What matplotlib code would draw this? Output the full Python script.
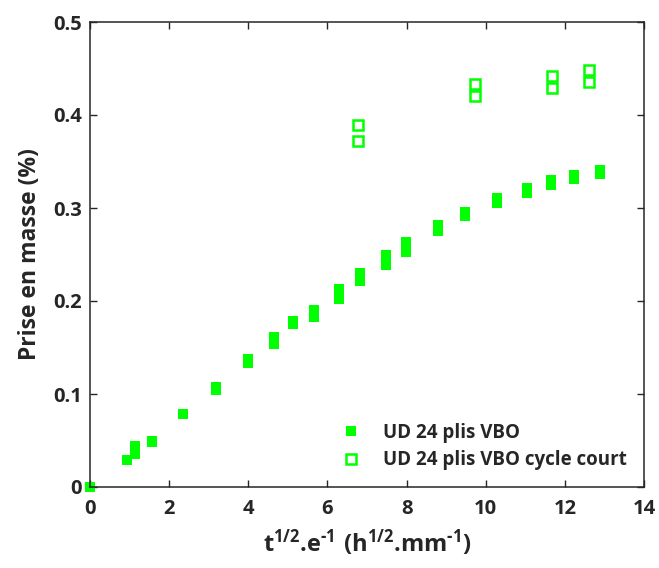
import matplotlib
matplotlib.use("Agg")
import matplotlib.pyplot as plt
from matplotlib.ticker import FuncFormatter

plt.rcParams['font.family'] = ['Open Sans', 'DejaVu Sans']
plt.rcParams['font.weight'] = 'bold'
plt.rcParams['mathtext.fontset'] = 'custom'
plt.rcParams['mathtext.rm'] = 'Open Sans:bold'
plt.rcParams['mathtext.bf'] = 'Open Sans:bold'
plt.rcParams['mathtext.it'] = 'Open Sans:bold'

# Series 1: UD 24 plis VBO (filled squares)
x_vbo = [0.0, 0.94, 1.14, 1.14, 1.56, 1.56, 2.34, 3.18, 3.18, 4.0, 4.0, 4.66, 4.66,
         5.14, 5.14, 5.65, 5.65, 6.30, 6.30, 6.83, 6.83, 7.48, 7.48, 7.98, 7.98,
         8.80, 8.80, 9.47, 9.47, 10.28, 10.28, 11.04, 11.04, 11.64, 11.64,
         12.22, 12.22, 12.88, 12.88]
y_vbo = [0.0, 0.029, 0.044, 0.036, 0.049, 0.048, 0.079, 0.108, 0.104, 0.138, 0.133,
         0.161, 0.154, 0.178, 0.175, 0.190, 0.183, 0.213, 0.202, 0.230, 0.221,
         0.250, 0.239, 0.263, 0.253, 0.282, 0.275, 0.296, 0.291, 0.311, 0.305,
         0.322, 0.316, 0.330, 0.325, 0.335, 0.331, 0.341, 0.337]

# Series 2: UD 24 plis VBO cycle court (open squares)
x_court = [6.77, 6.77, 9.74, 9.74, 11.67, 11.67, 12.61, 12.61]
y_court = [0.389, 0.372, 0.433, 0.420, 0.442, 0.429, 0.448, 0.435]

x_ticks = [0, 2, 4, 6, 8, 10, 12, 14]
y_ticks = [0, 0.1, 0.2, 0.3, 0.4, 0.5]

green = '#00ff00'
txt = '#262626'

fig = plt.figure(figsize=(6.59, 5.68), dpi=100)
ax = fig.add_axes([90/659, 81/568, 554/659, 465/568])

ax.plot(x_vbo, y_vbo, linestyle='none', marker='s', markersize=7.9,
        markerfacecolor=green, markeredgewidth=0, label='UD 24 plis VBO')
ax.plot(x_court, y_court, linestyle='none', marker='s', markersize=6.8,
        markerfacecolor='none', markeredgecolor=green, markeredgewidth=1.8,
        label='UD 24 plis VBO cycle court')

ax.set_xlim(0, 14)
ax.set_ylim(0, 0.5)
ax.set_xticks(x_ticks)
ax.set_yticks(y_ticks)
fmt = FuncFormatter(lambda v, p: '%g' % v)
ax.xaxis.set_major_formatter(fmt)
ax.yaxis.set_major_formatter(fmt)
ax.tick_params(direction='in', length=5, width=1.0, top=True, right=True,
               labelsize=14.5, colors=txt)
ax.tick_params(axis='x', pad=9)
ax.tick_params(axis='y', pad=6)
for lab in ax.get_xticklabels() + ax.get_yticklabels():
    lab.set_fontweight('bold')
for s in ax.spines.values():
    s.set_linewidth(1.1)
    s.set_color(txt)
for l in ax.lines:
    l.set_clip_on(False)

ax.set_xlabel(r'$\mathbf{t^{1/2}\text{.}e^{\text{-1}}\ (h^{1/2}\text{.}mm^{\text{-1}})}$',
              fontsize=17, color=txt, labelpad=6)
ax.set_ylabel('Prise en masse (%)', fontsize=16.5, fontweight='bold', color=txt, labelpad=8)

leg = ax.legend(loc='lower right', bbox_to_anchor=(1.0, 0.0), frameon=False,
                handlelength=1.0, handletextpad=1.2, labelspacing=0.4,
                prop={'weight': 'bold', 'size': 13.5})
for t in leg.get_texts():
    t.set_color(txt)

fig.savefig('out.png', dpi=100)
